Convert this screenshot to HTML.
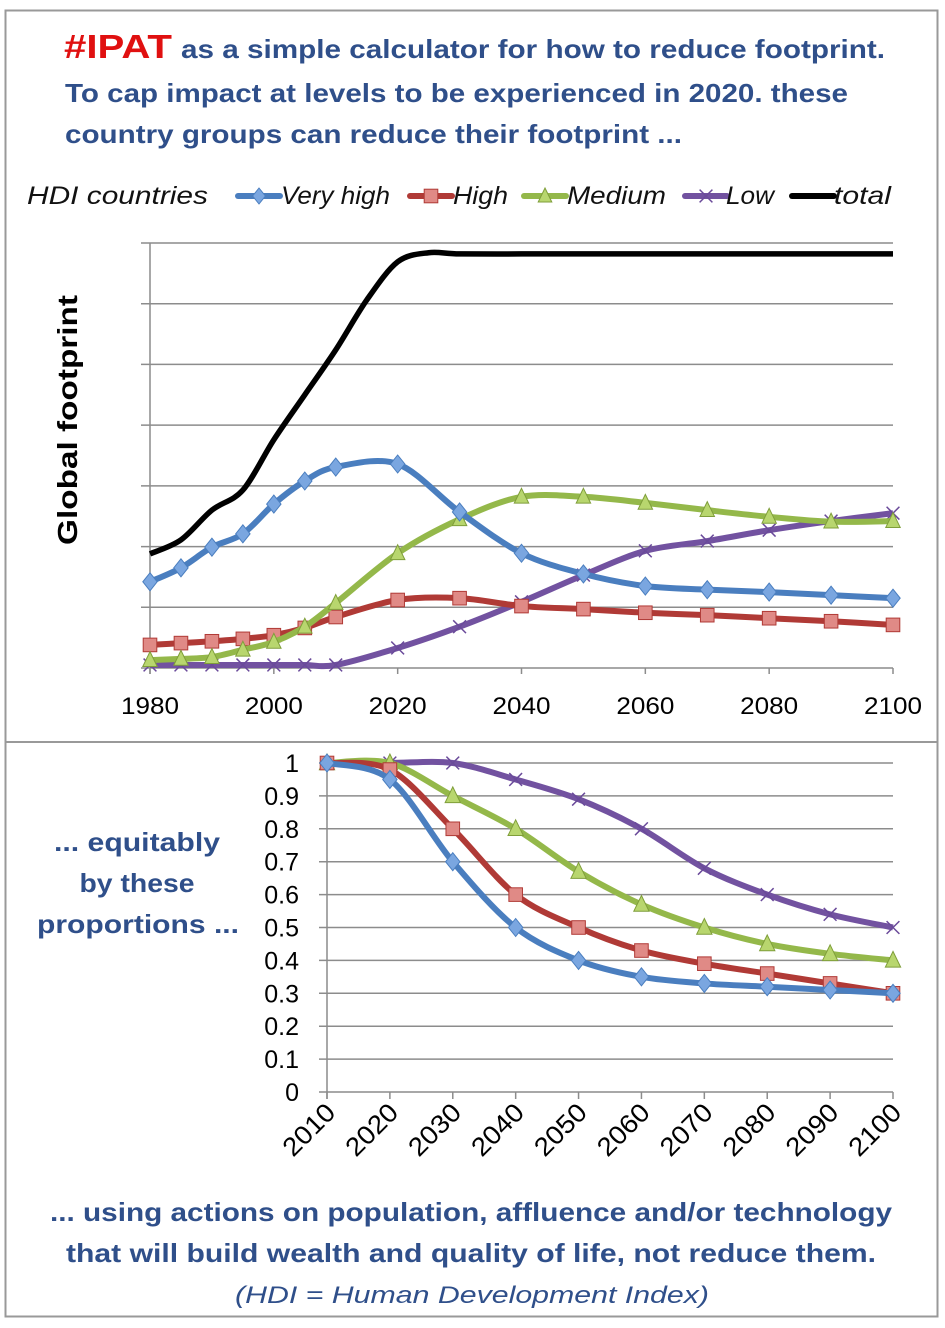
<!DOCTYPE html>
<html><head><meta charset="utf-8"><style>
html,body{margin:0;padding:0;background:#fff;}
svg{display:block;font-family:"Liberation Sans",sans-serif;}
</style></head><body>
<svg id="root" width="945" height="1328" viewBox="0 0 945 1328">
<rect x="5.5" y="10.5" width="932" height="1306" fill="#fff" stroke="#999" stroke-width="2"/>
<line x1="5" y1="742" x2="937" y2="742" stroke="#999" stroke-width="2"/>

<g font-weight="bold" fill="#2f4f8a">
<text x="64" y="58"><tspan fill="#e01010" font-size="33" textLength="108" lengthAdjust="spacingAndGlyphs">#IPAT</tspan><tspan x="181" font-size="26" textLength="704" lengthAdjust="spacingAndGlyphs">as a simple calculator for how to reduce footprint.</tspan></text>
<text x="65" y="102" font-size="26" textLength="783" lengthAdjust="spacingAndGlyphs">To cap impact at levels to be experienced in 2020. these</text>
<text x="65" y="143" font-size="26" textLength="617" lengthAdjust="spacingAndGlyphs">country groups can reduce their footprint ...</text>
</g>

<g id="legend" font-style="italic" font-size="25" fill="#111">
<text x="27" y="204" textLength="181" lengthAdjust="spacingAndGlyphs">HDI countries</text>
</g>

<text transform="translate(77,420) rotate(-90)" text-anchor="middle" font-weight="bold" font-size="28" textLength="250" lengthAdjust="spacingAndGlyphs" fill="#000">Global footprint</text>

<g id="topChart"></g>

<g font-weight="bold" font-size="26" fill="#2f4f8a" text-anchor="middle">
<text x="137" y="851" textLength="166" lengthAdjust="spacingAndGlyphs">... equitably</text>
<text x="137" y="892" textLength="115" lengthAdjust="spacingAndGlyphs">by these</text>
<text x="138" y="933" textLength="202" lengthAdjust="spacingAndGlyphs">proportions ...</text>
</g>

<g id="botChart"></g>

<g font-size="26" fill="#2f4f8a" text-anchor="middle">
<text x="471" y="1221" font-weight="bold" textLength="842" lengthAdjust="spacingAndGlyphs">... using actions on population, affluence and/or technology</text>
<text x="471" y="1262" font-weight="bold" textLength="810" lengthAdjust="spacingAndGlyphs">that will build wealth and quality of life, not reduce them.</text>
<text x="472" y="1303" font-style="italic" font-size="24" textLength="474" lengthAdjust="spacingAndGlyphs">(HDI = Human Development Index)</text>
</g>
</svg>
<script>
// ---- Top chart data ----
const topYears = [1980,1985,1990,1995,2000,2005,2010,2020,2030,2040,2050,2060,2070,2080,2090,2100];
const veryHighFoot = [1.42,1.65,1.99,2.21,2.70,3.08,3.31,3.36,2.57,1.89,1.55,1.35,1.29,1.25,1.20,1.15];
const highFoot = [0.38,0.41,0.44,0.48,0.54,0.66,0.84,1.12,1.15,1.02,0.97,0.91,0.87,0.82,0.77,0.71];
const mediumFoot = [0.13,0.15,0.18,0.30,0.43,0.68,1.07,1.89,2.45,2.82,2.82,2.72,2.60,2.49,2.41,2.42];
const lowFoot = [0.05,0.05,0.05,0.05,0.05,0.05,0.05,0.33,0.68,1.09,1.53,1.93,2.09,2.27,2.42,2.55];
const totalYears = [1980,1985,1990,1995,2000,2005,2010,2015,2020,2025,2030,2040,2050,2060,2070,2080,2090,2100];
const totalFoot = [1.88,2.11,2.60,2.93,3.76,4.50,5.24,6.06,6.69,6.84,6.82,6.82,6.82,6.82,6.82,6.82,6.82,6.82];
const topTickLabels = ["1980","2000","2020","2040","2060","2080","2100"];
const topGridCount = 7;
// ---- Bottom chart data ----
const botYears = [2010,2020,2030,2040,2050,2060,2070,2080,2090,2100];
const veryHighProp = [1,0.95,0.70,0.50,0.40,0.35,0.33,0.32,0.31,0.30];
const highProp = [1,0.98,0.80,0.60,0.50,0.43,0.39,0.36,0.33,0.30];
const mediumProp = [1,1,0.90,0.80,0.67,0.57,0.50,0.45,0.42,0.40];
const lowProp = [1,1,1,0.95,0.89,0.80,0.68,0.60,0.54,0.50];
const botYTicks = ["0","0.1","0.2","0.3","0.4","0.5","0.6","0.7","0.8","0.9","1"];

const NS="http://www.w3.org/2000/svg";
function mk(tag,attrs,parent){const e=document.createElementNS(NS,tag);for(const k in attrs)e.setAttribute(k,attrs[k]);if(parent)parent.appendChild(e);return e;}
function smooth(pts){
  let d="M"+pts[0][0]+","+pts[0][1];
  for(let i=0;i<pts.length-1;i++){
    const p0=pts[i-1]||pts[i],p1=pts[i],p2=pts[i+1],p3=pts[i+2]||p2;
    const t=0.16;
    const c1=[p1[0]+(p2[0]-p0[0])*t,p1[1]+(p2[1]-p0[1])*t];
    const c2=[p2[0]-(p3[0]-p1[0])*t,p2[1]-(p3[1]-p1[1])*t];
    d+=" C"+c1[0]+","+c1[1]+" "+c2[0]+","+c2[1]+" "+p2[0]+","+p2[1];
  }
  return d;
}
const styles={vh:{c:"#4a7ebf",f:"#7aa6e0"},h:{c:"#b03a36",f:"#e08a86"},m:{c:"#94b84a",f:"#b8d66e"},l:{c:"#7252a0",f:"#7252a0"}};
function marker(g,type,x,y,s){
  const st=styles[type];
  if(type==="vh"){return mk("path",{d:`M${x},${y-s} L${x+s*0.8},${y} L${x},${y+s} L${x-s*0.8},${y} Z`,fill:st.f,stroke:"#4a7ebf","stroke-width":1},g);}
  if(type==="h"){return mk("rect",{x:x-s*0.85,y:y-s*0.85,width:s*1.7,height:s*1.7,fill:st.f,stroke:"#b03a36","stroke-width":1},g);}
  if(type==="m"){return mk("path",{d:`M${x},${y-s} L${x+s*0.85},${y+s*0.75} L${x-s*0.85},${y+s*0.75} Z`,fill:st.f,stroke:"#7f9e3a","stroke-width":1},g);}
  return mk("path",{d:`M${x-s*0.8},${y-s*0.8} L${x+s*0.8},${y+s*0.8} M${x+s*0.8},${y-s*0.8} L${x-s*0.8},${y+s*0.8}`,stroke:"#6a4a9a","stroke-width":1.5,fill:"none"},g);
}

// Legend
const lgG=document.getElementById("legend");
const legItems=[["vh","Very high",238,281,109],["h","High",410,453,55],["m","Medium",524,567,99],["l","Low",685,726,48],["t","total",792,834,57]];
legItems.forEach(([t,label,x0,tx0,w])=>{
  const g=mk("g",{},lgG);
  
  
  mk("line",{x1:x0,y1:196,x2:x0+42,y2:196,stroke:t==="t"?"#000":styles[t].c,"stroke-width":6,"stroke-linecap":"round"},g);
  if(t!=="t")marker(g,t,x0+21,196,8);
  const te=mk("text",{x:tx0,y:204,textLength:w,lengthAdjust:"spacingAndGlyphs"},g);te.textContent=label;
});

// Top chart
const topG=document.getElementById("topChart");
const tX0=150,tX1=893,tY0=668,tYTop=243;
const txf=y=>tX0+(y-1980)/(2100-1980)*(tX1-tX0);
const tyf=v=>tY0-v/topGridCount*(tY0-tYTop);
for(let i=0;i<=topGridCount;i++){
  const l=mk("line",{x1:141,x2:tX1,y1:tyf(i),y2:tyf(i),stroke:"#8c8c8c","stroke-width":1.5},topG);
  
  
}
mk("line",{x1:tX0,x2:tX0,y1:tYTop,y2:tY0+6,stroke:"#8c8c8c","stroke-width":1.5},topG);
topTickLabels.forEach(lab=>{
  const x=txf(+lab);
  mk("line",{x1:x,x2:x,y1:tY0,y2:tY0+6,stroke:"#8c8c8c","stroke-width":1.5},topG);
  const t=mk("text",{x:x,y:714,"text-anchor":"middle","font-size":24,textLength:58,lengthAdjust:"spacingAndGlyphs",fill:"#000"},topG);
  t.textContent=lab;
  
  
});
function series(g,xs,vals,xf,yf,type,name,mSize){
  const pts=xs.map((x,i)=>[xf(x),yf(vals[i])]);
  const sg=mk("g",{},g);
  
  
  if(type==="t"){
    mk("path",{d:smooth(pts),fill:"none",stroke:"#000","stroke-width":5.5},sg);
    return;
  }
  mk("path",{d:smooth(pts),fill:"none",stroke:styles[type].c,"stroke-width":6,"stroke-linejoin":"round"},sg);
  pts.forEach(p=>{const m=marker(sg,type,p[0],p[1],mSize);});
}
series(topG,totalYears,totalFoot,txf,tyf,"t","total-line",0);
series(topG,topYears,lowFoot,txf,tyf,"l","low-line",8);
series(topG,topYears,highFoot,txf,tyf,"h","high-line",8);
series(topG,topYears,mediumFoot,txf,tyf,"m","medium-line",8.5);
series(topG,topYears,veryHighFoot,txf,tyf,"vh","very-high-line",9);

// Bottom chart
const botG=document.getElementById("botChart");
const bX0=327,bX1=893,bY0=1092,bY1=763;
const bxf=y=>bX0+(y-2010)/(2100-2010)*(bX1-bX0);
const byf=v=>bY0-v*(bY0-bY1);
botYTicks.forEach(lab=>{
  const y=byf(+lab);
  const l=mk("line",{x1:319,x2:bX1,y1:y,y2:y,stroke:"#8c8c8c","stroke-width":1.5},botG);
  
  
  const t=mk("text",{x:299,y:y+9,"text-anchor":"end","font-size":25,fill:"#000"},botG);
  t.textContent=lab;
  
  
});
mk("line",{x1:bX0,x2:bX0,y1:bY1,y2:bY0+7,stroke:"#8c8c8c","stroke-width":1.5},botG);
botYears.forEach(yr=>{
  const x=bxf(yr);
  mk("line",{x1:x,x2:x,y1:bY0,y2:bY0+7,stroke:"#8c8c8c","stroke-width":1.5},botG);
  const t=mk("text",{x:0,y:0,"text-anchor":"end","font-size":26,textLength:62,lengthAdjust:"spacingAndGlyphs",fill:"#000",transform:`translate(${x+10},${bY0+22}) rotate(-45)`},botG);
  t.textContent=String(yr);
  
  
});
series(botG,botYears,lowProp,bxf,byf,"l","low-proportion-line",8);
series(botG,botYears,mediumProp,bxf,byf,"m","medium-proportion-line",9);
series(botG,botYears,highProp,bxf,byf,"h","high-proportion-line",8);
series(botG,botYears,veryHighProp,bxf,byf,"vh","very-high-proportion-line",9);
</script>
</body></html>
